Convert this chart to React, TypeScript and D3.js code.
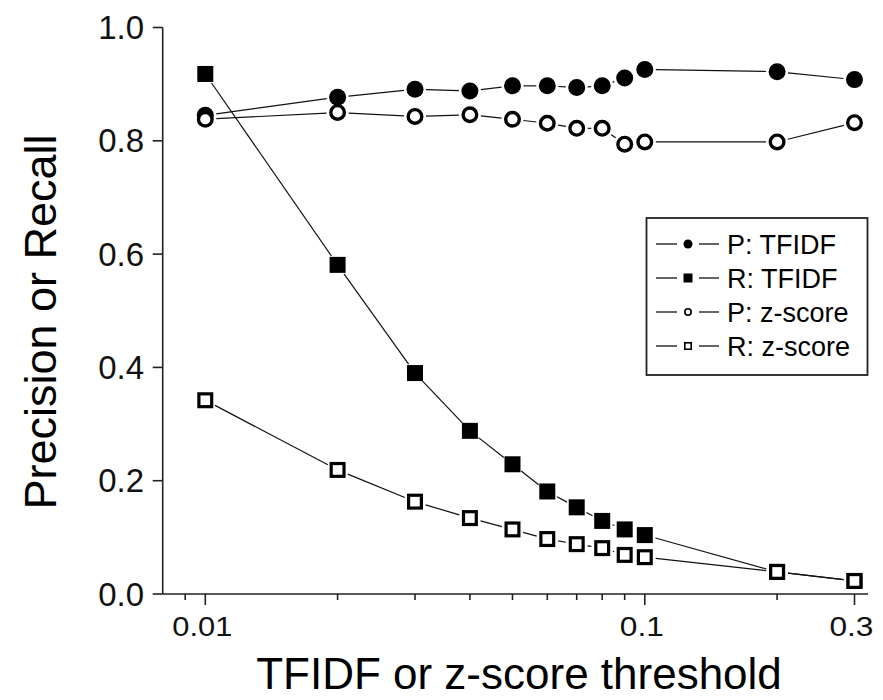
import React from "react";
import * as d3 from "d3";

// thresholds on the x axis (log scale)
const thresholds = [0.01, 0.02, 0.03, 0.04, 0.05, 0.06, 0.07, 0.08, 0.09, 0.1, 0.2, 0.3];

// series values
const precisionTfidf = [0.845, 0.877, 0.891, 0.888, 0.897, 0.897, 0.894, 0.897, 0.911, 0.926, 0.922, 0.908];
const recallTfidf = [0.918, 0.581, 0.39, 0.288, 0.229, 0.181, 0.153, 0.129, 0.114, 0.104, 0.039, 0.023];
const precisionZ = [0.838, 0.85, 0.843, 0.846, 0.838, 0.831, 0.822, 0.822, 0.794, 0.798, 0.798, 0.832];
const recallZ = [0.342, 0.219, 0.163, 0.134, 0.114, 0.097, 0.088, 0.081, 0.069, 0.065, 0.039, 0.023];

const seriesNames = ["P: TFIDF", "R: TFIDF", "P: z-score", "R: z-score"];

const xMajorTicks = [0.01, 0.1, 0.3];
const xMajorLabels = ["0.01", "0.1", "0.3"];
const xMinorTicks = [0.009, 0.02, 0.03, 0.04, 0.05, 0.06, 0.07, 0.08, 0.09, 0.2];
const yTicks = [0, 0.2, 0.4, 0.6, 0.8, 1.0];

const width = 883;
const height = 700;
const left = 162.7;
const right = 868;
const top = 27.5;
const bottom = 594;
const font = "'Liberation Sans', Arial, Helvetica, sans-serif";

const x = d3.scaleLog().domain([0.008, 0.322]).range([left, right]);
const y = d3.scaleLinear().domain([0, 1]).range([bottom, top]);

const GAP = 11;

const Segments = ({ values }) => {
  const pts = thresholds.map((t, i) => [x(t), y(values[i])]);
  const segs = d3.pairs(pts).filter(([a, b]) => Math.hypot(b[0] - a[0], b[1] - a[1]) > GAP * 2 + 1);
  return (
    <g stroke="#111" strokeWidth={1.2} fill="none">
      {segs.map(([a, b], i) => {
        const len = Math.hypot(b[0] - a[0], b[1] - a[1]);
        const ux = (b[0] - a[0]) / len;
        const uy = (b[1] - a[1]) / len;
        return (
          <line key={i} x1={a[0] + ux * GAP} y1={a[1] + uy * GAP} x2={b[0] - ux * GAP} y2={b[1] - uy * GAP} />
        );
      })}
    </g>
  );
};

const Marker = ({ cx, cy, shape, filled, size }) => {
  const sw = filled ? 0 : size * 0.2;
  if (shape === "circle") {
    return (
      <circle
        cx={cx}
        cy={cy}
        r={filled ? size / 2 : size / 2 - sw / 2}
        fill={filled ? "#000" : "#fff"}
        stroke={filled ? "none" : "#000"}
        strokeWidth={sw}
      />
    );
  }
  const s = filled ? size : size - sw;
  return (
    <rect
      x={cx - s / 2}
      y={cy - s / 2}
      width={s}
      height={s}
      fill={filled ? "#000" : "#fff"}
      stroke={filled ? "none" : "#000"}
      strokeWidth={sw}
    />
  );
};

const series = [
  { name: seriesNames[0], values: precisionTfidf, shape: "circle", filled: true },
  { name: seriesNames[1], values: recallTfidf, shape: "square", filled: true },
  { name: seriesNames[2], values: precisionZ, shape: "circle", filled: false },
  { name: seriesNames[3], values: recallZ, shape: "square", filled: false },
];

// legend box
const legend = { x0: 646.5, y0: 218, x1: 867.5, y1: 375, rowY: 244, rowStep: 34 };

const App = () => {
  return (
    <svg
      width={width}
      height={height}
      viewBox={`0 0 ${width} ${height}`}
      style={{ position: "absolute", left: 0, top: 0, background: "#fff" }}
      fontFamily={font}
    >
      <rect width={width} height={height} fill="#fff" />

      {/* axes */}
      <g stroke="#222" strokeWidth={1.6} fill="none">
        <line x1={left} x2={left} y1={top} y2={bottom} />
        <line x1={left} x2={right} y1={bottom} y2={bottom} />
        {yTicks.map((t) => (
          <line key={t} x1={left - 10} x2={left} y1={y(t)} y2={y(t)} />
        ))}
        {xMajorTicks.map((t) => (
          <line key={t} x1={x(t)} x2={x(t)} y1={bottom} y2={bottom + 11} />
        ))}
        {xMinorTicks.map((t) => (
          <line key={t} x1={x(t)} x2={x(t)} y1={bottom} y2={bottom + 6} />
        ))}
      </g>
      <g fill="#111" fontSize={33}>
        {yTicks.map((t) => (
          <text key={t} x={144} y={y(t)} dy="0.35em" textAnchor="end">
            {d3.format(".1f")(t)}
          </text>
        ))}
      </g>
      <g fill="#111" fontSize={28}>
        {xMajorTicks.map((t, i) => (
          <text
            key={t}
            x={x(t) - 3}
            y={636}
            textAnchor="middle"
            textLength={xMajorLabels[i].length > 3 ? 60 : 44}
            lengthAdjust="spacingAndGlyphs"
          >
            {xMajorLabels[i]}
          </text>
        ))}
      </g>
      <text x={519} y={689} textAnchor="middle" fontSize={44} fill="#000">
        TFIDF or z-score threshold
      </text>
      <text
        transform={`translate(56,${322}) rotate(-90)`}
        textAnchor="middle"
        fontSize={45}
        fill="#000"
      >
        Precision or Recall
      </text>

      {/* lines */}
      {series.map((s) => (
        <Segments key={s.name} values={s.values} />
      ))}

      {/* markers, filled first so open ones sit on top */}
      {[series[1], series[0], series[2], series[3]].map((s) => (
        <g key={s.name}>
          {thresholds.map((t, i) => (
            <Marker
              key={t}
              cx={x(t)}
              cy={y(s.values[i])}
              shape={s.shape}
              filled={s.filled}
              size={s.shape === "circle" ? 17 : 16}
            />
          ))}
        </g>
      ))}

      {/* legend */}
      <rect
        x={legend.x0}
        y={legend.y0}
        width={legend.x1 - legend.x0}
        height={legend.y1 - legend.y0}
        fill="#fff"
        stroke="#222"
        strokeWidth={1.8}
      />
      {series.map((s, i) => {
        const cy = legend.rowY + i * legend.rowStep;
        return (
          <g key={s.name}>
            <line x1={656} x2={677} y1={cy} y2={cy} stroke="#111" strokeWidth={1.3} />
            <line x1={699} x2={719} y1={cy} y2={cy} stroke="#111" strokeWidth={1.3} />
            <Marker cx={688} cy={cy} shape={s.shape} filled={s.filled} size={s.filled ? 9 : 8} />
            <text x={727} y={cy} dy="0.36em" fontSize={27} fill="#000">
              {s.name}
            </text>
          </g>
        );
      })}
    </svg>
  );
};

export default App;
